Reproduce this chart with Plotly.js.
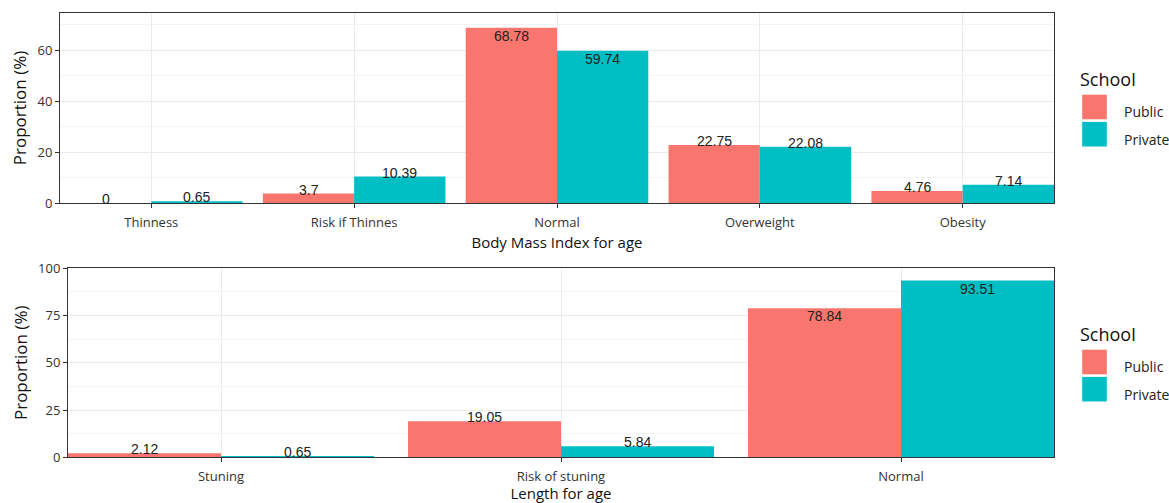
<!DOCTYPE html>
<html><head><meta charset="utf-8">
<script src="https://cdn.plot.ly/plotly-3.0.1.min.js"></script>
<style>body{margin:0;background:#fff;} #chart{width:1169px;height:503px;}</style>
</head><body><div id="chart"></div>
<script>
const bmiCategories = ['Thinness', 'Risk if Thinnes', 'Normal', 'Overweight', 'Obesity'];
const bmiPublic = [0, 3.7, 68.78, 22.75, 4.76];
const bmiPrivate = [0.65, 10.39, 59.74, 22.08, 7.14];
const lfaCategories = ['Stuning', 'Risk of stuning', 'Normal'];
const lfaPublic = [2.12, 19.05, 78.84];
const lfaPrivate = [0.65, 5.84, 93.51];
const seriesNames = ['Public', 'Private'];
const seriesColors = ['#F8766D', '#00BFC4'];
const legendTitle = 'School';
const yTitle = 'Proportion (%)';
const xTitleTop = 'Body Mass Index for age';
const xTitleBottom = 'Length for age';

const W = 1169, H = 503;
const TICK_FONT = {family: 'Open Sans, sans-serif', size: 13, color: '#333'};
const TITLE_FONT = {family: 'Open Sans, sans-serif', size: 17, color: '#111'};
const LABEL_FONT = {family: 'Liberation Sans, Arial, sans-serif', size: 14, color: '#222'};

const panels = [
  {cats: bmiCategories, vals: [bmiPublic, bmiPrivate], xa: 'x', ya: 'y', legend: 'legend'},
  {cats: lfaCategories, vals: [lfaPublic, lfaPrivate], xa: 'x2', ya: 'y2', legend: 'legend2'}
];

const traces = [];
const annotations = [];
panels.forEach((p, pi) => {
  p.vals.forEach((v, si) => {
    traces.push({
      type: 'bar', x: p.cats, y: v, name: seriesNames[si],
      xaxis: p.xa, yaxis: p.ya, legend: p.legend,
      legendgroup: p.legend + seriesNames[si],
      marker: {color: seriesColors[si], line: {width: 0}},
      hoverinfo: 'skip'
    });
    v.forEach((val, ci) => {
      const inside = val > 50;
      annotations.push({
        x: ci + (si === 0 ? -0.225 : 0.225), y: val,
        xref: p.xa, yref: p.ya,
        text: String(val), showarrow: false,
        xanchor: 'center', yanchor: 'middle',
        yshift: inside ? -8 : 4,
        font: LABEL_FONT
      });
    });
  });
});

function xAxis(domain, n, title) {
  return {
    domain: domain, type: 'category', range: [-0.45, n - 0.55],
    showgrid: true, gridcolor: '#ebebeb', gridwidth: 1,
    showline: true, mirror: true, linecolor: '#333', linewidth: 1,
    ticks: 'outside', ticklen: 4, tickcolor: '#333', ticklabelstandoff: 3,
    tickfont: TICK_FONT, zeroline: false, fixedrange: true,
    title: {text: title, font: {family: 'Open Sans, sans-serif', size: 15, color: '#111'}, standoff: 7}
  };
}
function yAxis(domain, range, dtick) {
  return {
    domain: domain, range: range, tick0: 0, dtick: dtick,
    showgrid: true, gridcolor: '#ebebeb', gridwidth: 1,
    minor: {dtick: dtick / 2, tick0: 0, showgrid: true, gridcolor: '#f4f4f4', gridwidth: 1},
    showline: true, mirror: true, linecolor: '#333', linewidth: 1,
    ticks: 'outside', ticklen: 4, tickcolor: '#333',
    tickfont: TICK_FONT, zeroline: false, fixedrange: true,
    title: {text: yTitle, font: TITLE_FONT, standoff: 6}
  };
}
function legendCfg(topPx) {
  return {
    x: 1065 / W, xanchor: 'left', y: 1 - topPx / H, yanchor: 'top',
    title: {text: legendTitle, font: {family: 'Open Sans, sans-serif', size: 18, color: '#111'}},
    font: {family: 'Open Sans, sans-serif', size: 14, color: '#222'},
    tracegroupgap: 6, bgcolor: 'rgba(0,0,0,0)', itemwidth: 49,
    itemclick: false, itemdoubleclick: false
  };
}

const layout = {
  width: W, height: H,
  margin: {l: 0, r: 0, t: 0, b: 0, autoexpand: false},
  paper_bgcolor: '#fff', plot_bgcolor: '#fff',
  barmode: 'group', bargap: 0.1, bargroupgap: 0,
  showlegend: true,
  xaxis: Object.assign(xAxis([60 / W, 1054 / W], bmiCategories.length, xTitleTop), {anchor: 'y'}),
  yaxis: Object.assign(yAxis([1 - 203 / H, 1 - 13 / H], [0, 74.6], 20), {anchor: 'x'}),
  xaxis2: Object.assign(xAxis([68 / W, 1054 / W], lfaCategories.length, xTitleBottom), {anchor: 'y2'}),
  yaxis2: Object.assign(yAxis([1 - 457.3 / H, 1 - 268.3 / H], [0, 100], 25), {anchor: 'x2'}),
  legend: legendCfg(73),
  legend2: legendCfg(328),
  annotations: annotations
};

function tweakLegends(gd) {
  gd.querySelectorAll('.legendpoints path').forEach(p => {
    if (p.dataset.tweaked) return;
    p.dataset.tweaked = '1';
    const t = p.getAttribute('transform') || '';
    p.setAttribute('transform', t + ' translate(0,-5) scale(2.05)');
  });
  gd.querySelectorAll('.infolayer text').forEach(t => {
    if (t.textContent !== legendTitle || t.dataset.tweaked) return;
    t.dataset.tweaked = '1';
    const tr = t.getAttribute('transform') || '';
    t.setAttribute('transform', 'translate(13,-10) ' + tr);
  });
}

Plotly.newPlot('chart', traces, layout, {displayModeBar: false, staticPlot: true}).then(gd => {
  tweakLegends(gd);
  gd.on('plotly_afterplot', () => tweakLegends(gd));
});
</script>
</body></html>
